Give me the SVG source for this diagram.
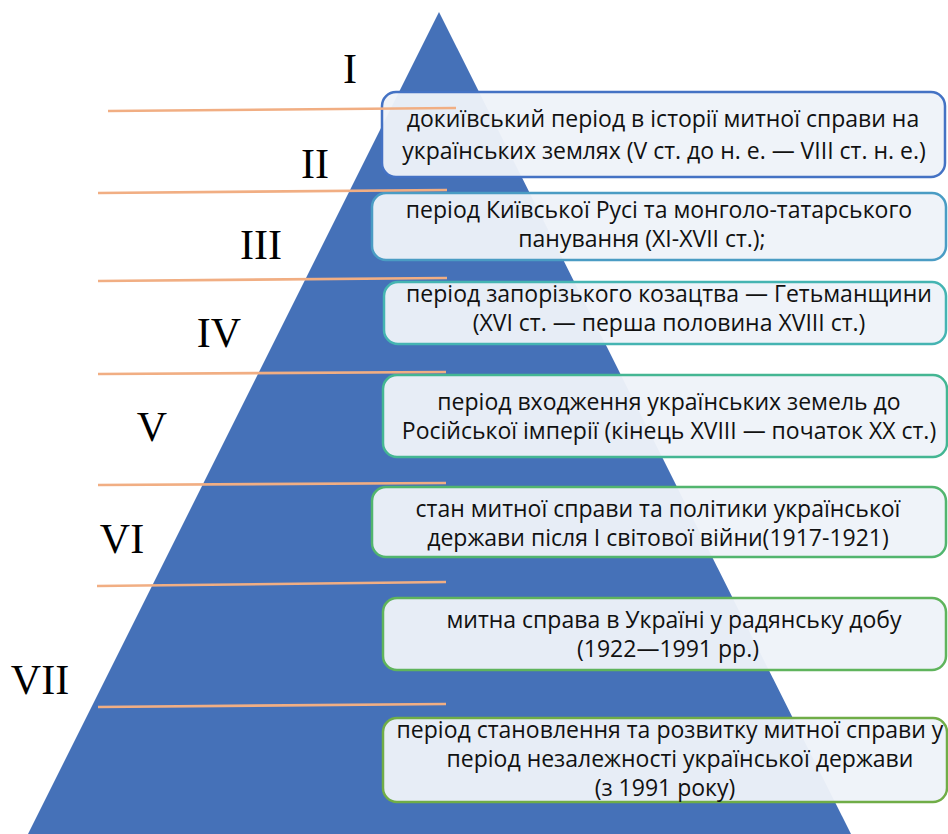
<svg xmlns="http://www.w3.org/2000/svg" width="948" height="834" viewBox="0 0 948 834">
  <style>
    .box { fill: #eef2f9; fill-opacity: 0.96; stroke-width: 2.5; }
    .t { font-family: "Open Sans", "Noto Sans", sans-serif; font-size: 23px; fill: #111; text-anchor: middle; }
    .num { font-family: "Liberation Serif", "Times New Roman", serif; font-size: 42px; fill: #000; text-anchor: middle; }
    .div { stroke: #f1ae83; stroke-width: 2.6; fill: none; }
  </style>

  <rect width="948" height="834" fill="#ffffff"/>

  <!-- pyramid body -->
  <polygon id="pyramid" points="439,12 28,834 851,834" fill="#4571b8"/>

  <!-- period numerals -->
  <g id="numerals">
    <text class="num" x="350" y="83">I</text>
    <text class="num" x="315" y="178">II</text>
    <text class="num" x="261" y="259">III</text>
    <text class="num" x="219" y="347">IV</text>
    <text class="num" x="152" y="441">V</text>
    <text class="num" x="122" y="553">VI</text>
    <text class="num" x="40" y="694">VII</text>
  </g>

  <!-- period descriptions -->
  <g id="period-1">
    <rect class="box" x="382" y="92" width="563" height="85" rx="14" stroke="#4472c4"/>
    <text class="t" x="663" y="127">докиївський період в історії митної справи на</text>
    <text class="t" x="664" y="159">українських землях (V ст. до н. е. — VIII ст. н. е.)</text>
  </g>
  <g id="period-2">
    <rect class="box" x="372" y="193" width="574" height="67" rx="14" stroke="#4a9cc4"/>
    <text class="t" x="659" y="218">період Київської Русі та монголо-татарського</text>
    <text class="t" x="642" y="247">панування (XI-XVII ст.);</text>
  </g>
  <g id="period-3">
    <rect class="box" x="384" y="282" width="562" height="62" rx="14" stroke="#45b4b2"/>
    <text class="t" x="669" y="302">період запорізького козацтва — Гетьманщини</text>
    <text class="t" x="669" y="331">(XVI ст. — перша половина XVIII ст.)</text>
  </g>
  <g id="period-4">
    <rect class="box" x="383" y="375" width="564" height="82" rx="14" stroke="#44b693"/>
    <text class="t" x="669" y="410">період входження українських земель до</text>
    <text class="t" x="669" y="439">Російської імперії (кінець XVIII — початок XX ст.)</text>
  </g>
  <g id="period-5">
    <rect class="box" x="372" y="487" width="574" height="70" rx="14" stroke="#52b56e"/>
    <text class="t" x="658" y="517">стан митної справи та політики української</text>
    <text class="t" x="658" y="546">держави після І світової війни(1917-1921)</text>
  </g>
  <g id="period-6">
    <rect class="box" x="383" y="598" width="563" height="72" rx="14" stroke="#5fb45c"/>
    <text class="t" x="674" y="628">митна справа в Україні у радянську добу</text>
    <text class="t" x="668" y="657">(1922—1991 рр.)</text>
  </g>
  <g id="period-7">
    <rect class="box" x="383" y="718" width="564" height="84" rx="14" stroke="#70ad47"/>
    <text class="t" x="670" y="738">період становлення та розвитку митної справи у</text>
    <text class="t" x="680" y="767">період незалежності української держави</text>
    <text class="t" x="665" y="796">(з 1991 року)</text>
  </g>

  <!-- dividing lines between levels -->
  <g id="dividers">
    <line class="div" x1="108" y1="111" x2="456" y2="108"/>
    <line class="div" x1="98" y1="193" x2="447" y2="190"/>
    <line class="div" x1="98" y1="281" x2="447" y2="278"/>
    <line class="div" x1="98" y1="374" x2="446" y2="372"/>
    <line class="div" x1="98" y1="485" x2="446" y2="483"/>
    <line class="div" x1="97" y1="586" x2="446" y2="582"/>
    <line class="div" x1="98" y1="707" x2="446" y2="704"/>
  </g>
</svg>
